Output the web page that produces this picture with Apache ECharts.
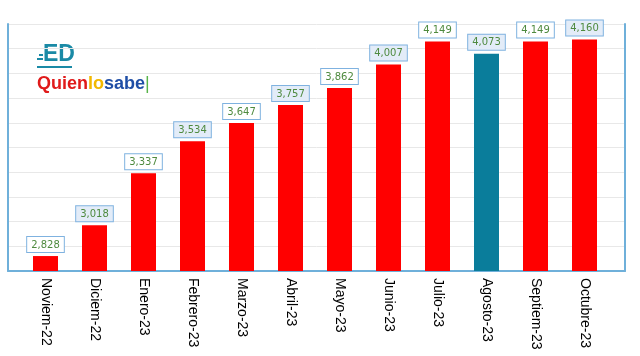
<!DOCTYPE html>
<html>
<head>
<meta charset="utf-8">
<script src="https://cdn.jsdelivr.net/npm/echarts@6/dist/echarts.min.js"></script>
<style>
html,body{margin:0;padding:0;background:#fff;}
#chart{width:640px;height:356px;}
</style>
</head>
<body>
<div id="chart"></div>
<script>
// ---- data ----
var categories = ['Noviem-22','Diciem-22','Enero-23','Febrero-23','Marzo-23','Abril-23','Mayo-23','Junio-23','Julio-23','Agosto-23','Septiem-23','Octubre-23'];
var values = [2828, 3018, 3337, 3534, 3647, 3757, 3862, 4007, 4149, 4073, 4149, 4160];
var highlightCategory = 'Agosto-23';

// ---- scale (y labels hidden) ----
var yMin = 2736, yMax = 4256, yInterval = 152;

var RED = '#ff0000', TEAL = '#0a7d9b';
var BORDER = '#6fb0da';

function fmt(v){ return String(v).replace(/\B(?=(\d{3})+(?!\d))/g, ','); }

var data = values.map(function(v, i){
  return {
    value: v,
    itemStyle: { color: categories[i] === highlightCategory ? TEAL : RED },
    label: { backgroundColor: (i % 2 === 1) ? '#e3ecf8' : '#ffffff' }
  };
});

var chart = echarts.init(document.getElementById('chart'), null, {renderer:'canvas'});
chart.setOption({
  backgroundColor: '#ffffff',
  animation: false,
  grid: [
    { left: 21, right: 31, top: 24, bottom: 85 },
    { left: 8, right: 15, top: 24, bottom: 85 }
  ],
  xAxis: [
    {
      gridIndex: 0, type: 'category', data: categories,
      axisLine: { show: false }, axisTick: { show: false },
      splitLine: { show: false },
      axisLabel: {
        rotate: -90, margin: 7, interval: 0,
        fontFamily: 'Liberation Sans, Arial, sans-serif', fontSize: 14, color: '#000000'
      }
    },
    {
      gridIndex: 1, type: 'value', min: 0, max: 1,
      axisLine: { show: true, lineStyle: { color: BORDER, width: 2 } },
      axisTick: { show: false }, axisLabel: { show: false }, splitLine: { show: false }
    }
  ],
  yAxis: [
    {
      gridIndex: 0, type: 'value', min: yMin, max: yMax, interval: yInterval,
      show: false
    },
    {
      gridIndex: 1, type: 'value', min: yMin, max: yMax, interval: yInterval,
      axisLine: { show: true, lineStyle: { color: BORDER, width: 2 } },
      axisTick: { show: false }, axisLabel: { show: false },
      splitLine: { show: true, lineStyle: { color: '#e8e8e8', width: 1 } }
    },
    {
      gridIndex: 1, type: 'value', position: 'right', min: yMin, max: yMax, interval: yInterval,
      axisLine: { show: true, lineStyle: { color: BORDER, width: 2 } },
      axisTick: { show: false }, axisLabel: { show: false }, splitLine: { show: false }
    }
  ],
  series: [{
    type: 'bar',
    xAxisIndex: 0, yAxisIndex: 0,
    data: data,
    barWidth: 25,
    label: {
      show: true, position: 'top', distance: 4,
      formatter: function(p){ return fmt(p.value); },
      fontFamily: 'DejaVu Sans, Verdana, sans-serif', fontSize: 10, color: '#4e8a3e',
      borderColor: '#7fb2e0', borderWidth: 1, padding: [3, 4, 2, 4]
    }
  }],
  graphic: [
    // ED logo
    { type: 'text', left: 43, top: 43, style: { text: 'ED', fill: '#1a8aa6', font: 'bold 23px "Liberation Sans", Arial, sans-serif' } },
    { type: 'rect', shape: { x: 37, y: 58, width: 6, height: 2 }, style: { fill: '#1a8aa6' } },
    { type: 'rect', shape: { x: 39, y: 54, width: 4, height: 2 }, style: { fill: '#1a8aa6' } },
    { type: 'rect', shape: { x: 37, y: 66, width: 35, height: 2 }, style: { fill: '#1a8aa6' } },
    // Quienlosabe
    { type: 'text', left: 37, top: 75, style: {
        text: '{r|Quien}{y|lo}{b|sabe}{g|\u007c}',
        rich: {
          r: { fill: '#e01a1a', font: 'bold 18px "Liberation Sans", Arial, sans-serif' },
          y: { fill: '#f2b800', font: 'bold 18px "Liberation Sans", Arial, sans-serif' },
          b: { fill: '#1f4ea6', font: 'bold 18px "Liberation Sans", Arial, sans-serif' },
          g: { fill: '#58b44a', font: '18px "Liberation Sans", Arial, sans-serif' }
        }
      } }
  ]
});
</script>
</body>
</html>
